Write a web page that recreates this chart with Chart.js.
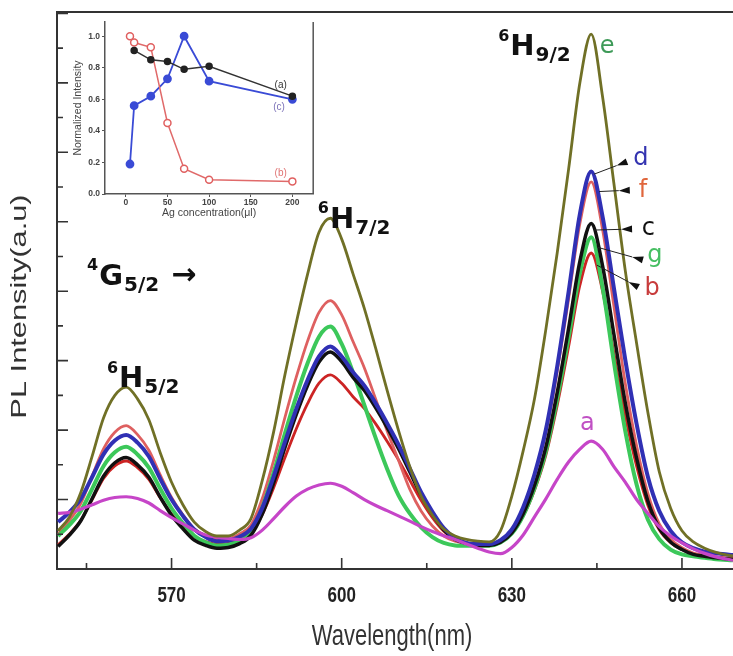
<!DOCTYPE html>
<html>
<head>
<meta charset="utf-8">
<script src="https://cdn.jsdelivr.net/npm/chart.js@4.4.1/dist/chart.umd.min.js"></script>
<style>
  html, body { margin: 0; padding: 0; background: #fff; }
  #wrap { position: relative; width: 733px; height: 656px; }
  #main { position: absolute; left: 0; top: 0; }
  #inset { position: absolute; left: 57px; top: 12px; }
</style>
</head>
<body>
<div id="wrap">
  <canvas id="main" width="733" height="656"></canvas>
  <canvas id="inset" width="262" height="212"></canvas>
</div>
<script>
// wavelength (nm)
const WL = [
  550, 552, 554, 556, 558, 560, 562, 564, 566, 568,
  570, 572, 574, 576, 578, 580, 582, 584, 586, 588,
  590, 592, 594, 596, 598, 600, 602, 604, 606, 608,
  610, 612, 614, 616, 618, 620, 622, 624, 626, 628,
  630, 632, 634, 636, 638, 640, 642, 644, 646, 648,
  650, 652, 654, 656, 658, 660, 662, 664, 666, 668,
  669
];

const PL_A = [
  1.60, 1.63, 1.72, 1.85, 1.98, 2.06, 2.08, 2.03, 1.90, 1.68,
  1.48, 1.30, 1.12, 0.98, 0.92, 0.88, 0.85, 0.90, 1.12, 1.45,
  1.80, 2.10, 2.30, 2.42, 2.47, 2.38, 2.20, 2.00, 1.83, 1.68,
  1.53, 1.38, 1.22, 1.08, 0.96, 0.85, 0.72, 0.60, 0.49, 0.44,
  0.62, 0.98, 1.50, 2.02, 2.58, 3.08, 3.45, 3.68, 3.45, 2.95,
  2.50, 2.00, 1.60, 1.22, 0.95, 0.75, 0.58, 0.45, 0.35, 0.28,
  0.25
];
const PL_B = [
  0.70, 1.01, 1.40, 2.00, 2.61, 2.97, 3.11, 2.92, 2.58, 2.05,
  1.58, 1.22, 0.94, 0.79, 0.72, 0.74, 0.84, 1.03, 1.57, 2.34,
  3.21, 4.04, 4.77, 5.35, 5.59, 5.35, 4.96, 4.62, 4.18, 3.68,
  3.15, 2.56, 1.98, 1.48, 1.09, 0.85, 0.75, 0.70, 0.70, 0.78,
  1.03, 1.52, 2.27, 3.28, 4.71, 6.39, 8.17, 9.10, 8.00, 6.21,
  4.42, 2.96, 1.83, 1.13, 0.76, 0.56, 0.43, 0.38, 0.34, 0.31,
  0.30
];
const PL_C = [
  0.65, 0.98, 1.39, 2.03, 2.67, 3.06, 3.21, 3.00, 2.64, 2.07,
  1.55, 1.16, 0.83, 0.68, 0.60, 0.62, 0.73, 0.97, 1.58, 2.48,
  3.50, 4.45, 5.29, 5.96, 6.25, 5.97, 5.52, 5.14, 4.64, 4.08,
  3.47, 2.80, 2.13, 1.58, 1.13, 0.85, 0.74, 0.68, 0.68, 0.77,
  1.04, 1.59, 2.41, 3.51, 5.08, 6.92, 8.86, 9.95, 8.73, 6.76,
  4.79, 3.19, 1.95, 1.18, 0.78, 0.56, 0.42, 0.37, 0.32, 0.29,
  0.28
];
const PL_D = [
  1.35, 1.64, 2.02, 2.65, 3.30, 3.70, 3.86, 3.64, 3.24, 2.60,
  2.00, 1.53, 1.14, 0.92, 0.80, 0.82, 0.93, 1.16, 1.76, 2.66,
  3.66, 4.61, 5.45, 6.12, 6.41, 6.12, 5.67, 5.28, 4.77, 4.20,
  3.59, 2.90, 2.21, 1.65, 1.18, 0.89, 0.75, 0.72, 0.72, 0.83,
  1.14, 1.78, 2.73, 4.01, 5.83, 7.97, 10.22, 11.45, 10.15, 8.09,
  6.03, 4.18, 2.65, 1.67, 1.10, 0.77, 0.60, 0.50, 0.45, 0.42,
  0.40
];
const PL_E = [
  1.10, 1.50, 2.20, 3.25, 4.35, 5.00, 5.24, 4.90, 4.30, 3.35,
  2.50, 1.85, 1.35, 1.08, 0.95, 0.95, 1.12, 1.45, 2.55, 3.95,
  5.60, 7.10, 8.50, 9.70, 10.10, 9.50, 8.50, 7.50, 6.35, 5.15,
  4.00, 2.95, 2.10, 1.55, 1.15, 0.95, 0.85, 0.80, 0.78, 1.10,
  2.10, 3.40, 4.90, 6.90, 9.10, 11.50, 14.00, 15.40, 13.60, 11.10,
  8.60, 6.50, 4.50, 2.80, 1.75, 1.10, 0.78, 0.60, 0.48, 0.40,
  0.38
];
const PL_F = [
  1.00, 1.40, 1.89, 2.68, 3.46, 3.94, 4.13, 3.87, 3.42, 2.71,
  2.06, 1.56, 1.16, 0.96, 0.85, 0.87, 1.01, 1.27, 2.03, 3.13,
  4.37, 5.53, 6.57, 7.39, 7.73, 7.32, 6.55, 5.79, 4.89, 3.98,
  3.14, 2.30, 1.67, 1.24, 0.95, 0.80, 0.73, 0.72, 0.72, 0.82,
  1.13, 1.75, 2.68, 3.92, 5.69, 7.77, 9.95, 11.15, 9.78, 7.57,
  5.35, 3.55, 2.17, 1.30, 0.86, 0.61, 0.46, 0.40, 0.35, 0.31,
  0.30
];
const PL_G = [
  0.95, 1.27, 1.67, 2.31, 2.96, 3.36, 3.52, 3.30, 2.92, 2.31,
  1.75, 1.32, 0.96, 0.77, 0.68, 0.70, 0.83, 1.08, 1.77, 2.78,
  3.91, 4.98, 5.93, 6.69, 6.98, 6.48, 5.66, 4.72, 3.77, 2.89,
  2.13, 1.60, 1.20, 0.92, 0.75, 0.68, 0.67, 0.67, 0.67, 0.76,
  1.02, 1.54, 2.33, 3.39, 4.90, 6.66, 8.52, 9.55, 8.11, 5.96,
  3.98, 2.43, 1.42, 0.86, 0.56, 0.42, 0.37, 0.32, 0.28, 0.26,
  0.25
];

const X_MAJOR = [570, 600, 630, 660];
const X_MINOR = [555, 585, 615, 645];
const Y_TICKS = [1, 2, 3, 4, 5, 6, 7, 8, 9, 10, 11, 12, 13, 14, 15, 16];

// inset: normalized intensity vs Ag concentration
const CONC = [5, 10, 30, 50, 70, 100, 200];
const NORM_A = [null, 0.91, 0.85, 0.84, 0.79, 0.81, 0.62];
const NORM_B = [1.00, 0.96, 0.93, 0.45, 0.16, 0.09, 0.08];
const NORM_C = [0.19, 0.56, 0.62, 0.73, 1.00, 0.715, 0.60];
const INSET_XTICKS = [0, 50, 100, 150, 200];
const INSET_YTICKS = [0, 0.2, 0.4, 0.6, 0.8, 1.0];

const COLORS = {
  a: '#c645c8',
  b: '#cc2424',
  c: '#111111',
  d: '#3030b4',
  e: '#707026',
  f: '#de6060',
  g: '#3cc85a'
};

// annotations, in data units (nm, intensity)
const TERMS = [
  { sup: '6', main: 'H', sub: '5/2', nm: 558.6, v: 5.24 },
  { sup: '6', main: 'H', sub: '7/2', nm: 595.8, v: 9.82 },
  { sup: '6', main: 'H', sub: '9/2', nm: 627.6, v: 14.8 },
  { sup: '4', main: 'G', sub: '5/2', nm: 555.1, v: 8.18, arrow: true }
];
const LETTERS = [
  { t: 'e', nm: 645.5, v: 14.86, color: '#3e9a58' },
  { t: 'a', nm: 642.0, v: 4.0, color: '#c050c4' },
  { t: 'd', nm: 651.4, v: 11.63, color: '#3434b0' },
  { t: 'f', nm: 652.4, v: 10.71, color: '#e0663c' },
  { t: 'c', nm: 652.9, v: 9.62, color: '#111111' },
  { t: 'g', nm: 653.9, v: 8.84, color: '#46bf62' },
  { t: 'b', nm: 653.4, v: 7.89, color: '#c83c3c' }
];
const POINTERS = [
  [650.3, 11.73, 644.5, 11.37],
  [650.8, 10.91, 645.4, 10.87],
  [651.2, 9.79, 644.5, 9.76],
  [653.1, 8.90, 645.0, 9.27],
  [652.3, 8.12, 645.0, 8.75]
];

function series(label, values, color, width) {
  return {
    label,
    data: WL.map((x, i) => ({ x, y: values[i] })),
    borderColor: color,
    borderWidth: width,
    pointRadius: 0,
    fill: false,
    cubicInterpolationMode: 'monotone'
  };
}

function stretchText(ctx, text, x, y, font, sy, align, color) {
  ctx.save();
  ctx.translate(x, y);
  ctx.scale(1, sy);
  ctx.font = font;
  ctx.textAlign = align;
  ctx.textBaseline = 'middle';
  ctx.fillStyle = color;
  ctx.fillText(text, 0, 0);
  ctx.restore();
}

function drawTerm(ctx, x, y, t, size) {
  const fam = '"DejaVu Sans", sans-serif';
  ctx.fillStyle = '#111';
  ctx.textAlign = 'left';
  ctx.textBaseline = 'alphabetic';
  ctx.font = `bold ${Math.round(size * 0.55)}px ${fam}`;
  ctx.fillText(t.sup, x, y - size * 0.5);
  let w = ctx.measureText(t.sup).width + 1;
  ctx.font = `bold ${size}px ${fam}`;
  ctx.fillText(t.main, x + w, y);
  w += ctx.measureText(t.main).width + 1;
  ctx.font = `bold ${Math.round(size * 0.7)}px ${fam}`;
  ctx.fillText(t.sub, x + w, y + size * 0.2);
  w += ctx.measureText(t.sub).width;
  return x + w;
}

const mainDecor = {
  id: 'mainDecor',
  afterDraw(chart) {
    const { ctx, chartArea: area, scales: { x, y } } = chart;
    ctx.save();

    // top frame
    ctx.strokeStyle = '#333';
    ctx.lineWidth = 2;
    ctx.beginPath();
    ctx.moveTo(area.left - 1, area.top);
    ctx.lineTo(area.right, area.top);
    ctx.stroke();

    // inward ticks
    ctx.lineWidth = 1.6;
    ctx.beginPath();
    X_MAJOR.forEach(v => {
      const px = x.getPixelForValue(v);
      ctx.moveTo(px, area.bottom);
      ctx.lineTo(px, area.bottom - 11);
    });
    X_MINOR.forEach(v => {
      const px = x.getPixelForValue(v);
      ctx.moveTo(px, area.bottom);
      ctx.lineTo(px, area.bottom - 6);
    });
    Y_TICKS.forEach(v => {
      const py = y.getPixelForValue(v);
      ctx.moveTo(area.left, py);
      ctx.lineTo(area.left + (v % 2 === 0 ? 11 : 6), py);
    });
    ctx.stroke();

    // tick labels and titles
    X_MAJOR.forEach(v => {
      stretchText(ctx, String(v), x.getPixelForValue(v), area.bottom + 27,
        'bold 17px "Liberation Sans", Arial, sans-serif', 1.3, 'center', '#222');
    });
    stretchText(ctx, 'Wavelength(nm)', (area.left + area.right) / 2 - 3, area.bottom + 68,
      '22px "Liberation Sans", Arial, sans-serif', 1.3, 'center', '#333');

    ctx.save();
    ctx.translate(20, (area.top + area.bottom) / 2 + 16);
    ctx.rotate(-Math.PI / 2);
    ctx.scale(1.4, 1);
    ctx.font = '22px "Liberation Sans", Arial, sans-serif';
    ctx.textAlign = 'center';
    ctx.textBaseline = 'middle';
    ctx.fillStyle = '#333';
    ctx.fillText('PL Intensity(a.u)', 0, 0);
    ctx.restore();

    // state labels
    TERMS.forEach(t => {
      const end = drawTerm(ctx, x.getPixelForValue(t.nm), y.getPixelForValue(t.v), t, 29);
      if (t.arrow) {
        ctx.font = 'bold 30px "DejaVu Sans", sans-serif';
        ctx.fillText('\u2192', end + 12, y.getPixelForValue(t.v) - 1);
      }
    });

    // curve letters
    ctx.font = '24px "DejaVu Sans", sans-serif';
    ctx.textAlign = 'left';
    ctx.textBaseline = 'alphabetic';
    LETTERS.forEach(l => {
      ctx.fillStyle = l.color;
      ctx.fillText(l.t, x.getPixelForValue(l.nm), y.getPixelForValue(l.v));
    });

    // pointer arrows
    ctx.strokeStyle = '#222';
    ctx.fillStyle = '#111';
    ctx.lineWidth = 1;
    POINTERS.forEach(p => {
      const x1 = x.getPixelForValue(p[0]), y1 = y.getPixelForValue(p[1]);
      const x2 = x.getPixelForValue(p[2]), y2 = y.getPixelForValue(p[3]);
      const len = Math.hypot(x2 - x1, y2 - y1);
      const ux = (x2 - x1) / len, uy = (y2 - y1) / len;
      const tx = x1 + ux * 11, ty = y1 + uy * 11;
      ctx.beginPath();
      ctx.moveTo(tx, ty);
      ctx.lineTo(x2, y2);
      ctx.stroke();
      ctx.beginPath();
      ctx.moveTo(tx, ty);
      ctx.lineTo(x1 - uy * 3.5, y1 + ux * 3.5);
      ctx.lineTo(x1 + uy * 3.5, y1 - ux * 3.5);
      ctx.closePath();
      ctx.fill();
    });

    ctx.restore();
  }
};

new Chart(document.getElementById('main'), {
  type: 'line',
  data: {
    datasets: [
      series('e', PL_E, COLORS.e, 2.8),
      series('a', PL_A, COLORS.a, 3.2),
      series('d', PL_D, COLORS.d, 4),
      series('c', PL_C, COLORS.c, 3.5),
      series('g', PL_G, COLORS.g, 4),
      series('f', PL_F, COLORS.f, 2.8),
      series('b', PL_B, COLORS.b, 2.8)
    ]
  },
  options: {
    responsive: false,
    animation: false,
    events: [],
    layout: { padding: { top: 12, right: 0, left: 0, bottom: 0 } },
    plugins: { legend: { display: false }, tooltip: { enabled: false } },
    scales: {
      x: {
        type: 'linear',
        min: 549.8,
        max: 669,
        grid: { display: false },
        ticks: { display: false },
        border: { display: true, color: '#333', width: 2 },
        afterFit(scale) { scale.height = 87; }
      },
      y: {
        min: 0,
        max: 16.04,
        grid: { display: false },
        ticks: { display: false },
        border: { display: true, color: '#333', width: 2 },
        afterFit(scale) { scale.width = 57; }
      }
    }
  },
  plugins: [mainDecor]
});

const INSET_NOTES = [
  { t: '(a)', c: 186, v: 0.69, color: '#333' },
  { t: '(c)', c: 184, v: 0.55, color: '#7c72b8' },
  { t: '(b)', c: 186, v: 0.13, color: '#e07474' }
];

const insetDecor = {
  id: 'insetDecor',
  afterDraw(chart) {
    const { ctx, chartArea: area, scales: { x, y } } = chart;
    ctx.save();
    ctx.strokeStyle = '#555';
    ctx.lineWidth = 1.5;
    ctx.beginPath();
    ctx.moveTo(area.right, area.top);
    ctx.lineTo(area.right, area.bottom);
    ctx.stroke();
    ctx.font = '10px "Liberation Sans", Arial, sans-serif';
    ctx.textAlign = 'center';
    ctx.textBaseline = 'middle';
    INSET_NOTES.forEach(n => {
      ctx.fillStyle = n.color;
      ctx.fillText(n.t, x.getPixelForValue(n.c), y.getPixelForValue(n.v));
    });
    ctx.restore();
  }
};

new Chart(document.getElementById('inset'), {
  type: 'line',
  data: {
    datasets: [
      {
        label: '(a)',
        data: CONC.map((c, i) => ({ x: c, y: NORM_A[i] })),
        borderColor: '#333',
        borderWidth: 1.5,
        pointRadius: 3,
        pointBackgroundColor: '#222',
        pointBorderColor: '#222'
      },
      {
        label: '(b)',
        data: CONC.map((c, i) => ({ x: c, y: NORM_B[i] })),
        borderColor: '#e06a6a',
        borderWidth: 1.5,
        pointRadius: 3.5,
        pointBackgroundColor: '#fff',
        pointBorderColor: '#e06060',
        pointBorderWidth: 1.5
      },
      {
        label: '(c)',
        data: CONC.map((c, i) => ({ x: c, y: NORM_C[i] })),
        borderColor: '#3a4bd6',
        borderWidth: 1.8,
        pointRadius: 3.5,
        pointBackgroundColor: '#3a4bd6',
        pointBorderColor: '#3a4bd6'
      }
    ]
  },
  options: {
    responsive: false,
    animation: false,
    events: [],
    layout: { padding: { top: 10, right: 4, left: 0, bottom: 0 } },
    plugins: { legend: { display: false }, tooltip: { enabled: false } },
    scales: {
      x: {
        type: 'linear',
        min: -25,
        max: 225,
        afterBuildTicks(scale) { scale.ticks = INSET_XTICKS.map(v => ({ value: v })); },
        grid: { drawOnChartArea: false, drawTicks: true, tickLength: 3, color: '#555' },
        border: { display: true, color: '#555', width: 1.5 },
        ticks: { padding: 1, color: '#444', font: { size: 8.5, weight: 'bold', family: '"Liberation Sans", Arial' } },
        title: {
          display: true,
          text: 'Ag concentration(\u03bcl)',
          color: '#444',
          font: { size: 10.5, family: '"Liberation Sans", Arial' },
          padding: { top: 0, bottom: 5 }
        },
        afterFit(scale) { scale.height = 30; }
      },
      y: {
        min: 0,
        max: 1.09,
        afterBuildTicks(scale) { scale.ticks = INSET_YTICKS.map(v => ({ value: v })); },
        grid: { drawOnChartArea: false, drawTicks: true, tickLength: 3, color: '#555' },
        border: { display: true, color: '#555', width: 1.5 },
        ticks: {
          padding: 2,
          color: '#444',
          font: { size: 8.5, weight: 'bold', family: '"Liberation Sans", Arial' },
          callback: v => Number(v).toFixed(1)
        },
        title: {
          display: true,
          text: 'Normalized Intensity',
          color: '#444',
          font: { size: 10.5, family: '"Liberation Sans", Arial' },
          padding: { top: 15, bottom: 0 }
        },
        afterFit(scale) { scale.width = 48; }
      }
    }
  },
  plugins: [insetDecor]
});
</script>
</body>
</html>
